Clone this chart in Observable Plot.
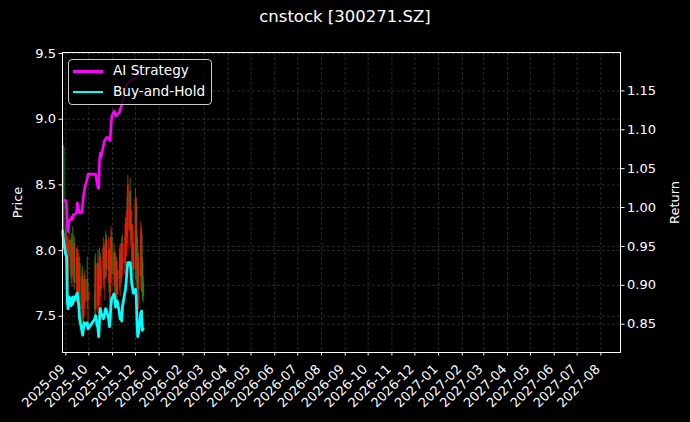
<!DOCTYPE html>
<html>
<head>
<meta charset="utf-8">
<script src="https://cdn.jsdelivr.net/npm/d3@7"></script>
<script src="https://cdn.jsdelivr.net/npm/@observablehq/plot@0.6"></script>
<style>
html, body { margin: 0; padding: 0; background: #000; }
#wrap { position: relative; width: 690px; height: 422px; background: #000; font-family: "DejaVu Sans", sans-serif; overflow: hidden; }
#title { position: absolute; left: 0; top: 7px; width: 690px; text-align: center; color: #fff; font-size: 16.5px; z-index: 2; }
#legend { position: absolute; left: 68px; top: 59px; width: 144px; height: 46px; box-sizing: border-box; border: 1px solid #cccccc; border-radius: 4px; background: rgba(0,0,0,0.8); color: #fff; font-size: 13.6px; z-index: 2; }
.row { position: absolute; left: 0; height: 20px; width: 100%; }
.swatch { position: absolute; left: 4px; width: 30px; height: 2.5px; }
.lbl { position: absolute; left: 44px; white-space: nowrap; }
svg { display: block; }
</style>
</head>
<body>
<div id="wrap">
  <div id="title">cnstock [300271.SZ]</div>
  <div id="chart"></div>
  <div id="legend"></div>
</div>
<script>
// ---- data ----
const dates = [
  "2025-08-28","2025-08-29",
  "2025-09-01","2025-09-02","2025-09-03","2025-09-04","2025-09-05",
  "2025-09-08","2025-09-09","2025-09-10","2025-09-11","2025-09-12",
  "2025-09-15","2025-09-16","2025-09-17","2025-09-18","2025-09-19",
  "2025-09-22","2025-09-23","2025-09-24","2025-09-25","2025-09-26",
  "2025-09-29","2025-09-30",
  "2025-10-09","2025-10-10",
  "2025-10-13","2025-10-14","2025-10-15","2025-10-16","2025-10-17",
  "2025-10-20","2025-10-21","2025-10-22","2025-10-23","2025-10-24",
  "2025-10-27","2025-10-28","2025-10-29","2025-10-30","2025-10-31",
  "2025-11-03","2025-11-04","2025-11-05","2025-11-06","2025-11-07",
  "2025-11-10","2025-11-11","2025-11-12","2025-11-13","2025-11-14",
  "2025-11-17","2025-11-18","2025-11-19","2025-11-20","2025-11-21",
  "2025-11-24","2025-11-25","2025-11-26","2025-11-27","2025-11-28",
  "2025-12-01","2025-12-02","2025-12-03","2025-12-04","2025-12-05",
  "2025-12-08","2025-12-09","2025-12-10","2025-12-11"
];
const open = [
  8.40,8.78,
  8.15,7.98,8.05,7.78,7.95,
  8.08,7.80,8.02,7.90,8.05,
  7.75,7.95,7.78,7.62,7.90,
  7.55,7.80,7.48,7.70,7.60,
  7.78,7.62,
  7.68,7.55,
  7.90,7.58,7.78,7.95,7.70,
  7.85,8.02,7.78,7.92,8.08,
  7.85,8.00,7.68,7.88,8.10,
  7.82,7.98,7.75,7.92,7.66,
  7.85,7.78,7.98,7.80,8.05,
  7.90,7.95,8.05,8.20,8.15,
  8.45,8.25,8.20,8.10,8.05,
  7.85,8.35,8.10,7.98,7.80,
  7.80,8.12,7.90,7.75
];
const high = [
  8.88,8.80,
  8.20,8.12,8.10,8.05,8.15,
  8.13,8.10,8.18,8.12,8.10,
  8.02,8.02,8.00,7.98,7.95,
  7.85,7.88,7.78,7.82,7.85,
  7.95,7.75,
  7.95,7.98,
  8.00,7.85,8.02,7.98,7.92,
  8.10,8.05,8.00,8.15,8.12,
  8.10,8.02,7.95,8.18,8.15,
  8.05,8.00,7.98,7.95,7.92,
  8.02,8.05,8.05,8.10,8.12,
  8.10,8.25,8.30,8.40,8.57,
  8.55,8.35,8.30,8.20,8.15,
  8.47,8.40,8.15,8.05,7.95,
  8.22,8.18,7.95,7.80
];
const low = [
  8.35,8.10,
  7.90,7.80,7.72,7.70,7.85,
  7.75,7.72,7.85,7.78,7.70,
  7.60,7.70,7.55,7.48,7.50,
  7.45,7.40,7.42,7.55,7.50,
  7.55,7.40,
  7.50,7.42,
  7.52,7.45,7.60,7.65,7.55,
  7.72,7.70,7.62,7.78,7.80,
  7.75,7.60,7.55,7.80,7.75,
  7.72,7.68,7.62,7.60,7.58,
  7.70,7.65,7.72,7.75,7.85,
  7.82,7.88,7.95,8.05,8.00,
  8.05,8.02,7.90,7.85,7.80,
  7.78,7.75,7.70,7.62,7.55,
  7.70,7.68,7.62,7.60
];
const close = [
  8.80,8.15,
  7.98,8.05,7.78,7.95,8.08,
  7.80,8.02,7.90,8.05,7.75,
  7.95,7.78,7.62,7.90,7.55,
  7.80,7.48,7.70,7.60,7.78,
  7.62,7.68,
  7.55,7.90,
  7.58,7.78,7.95,7.70,7.85,
  8.02,7.78,7.92,8.08,7.85,
  8.00,7.68,7.88,8.10,7.82,
  7.98,7.75,7.92,7.66,7.85,
  7.78,7.98,7.80,8.05,7.90,
  7.95,8.20,8.25,8.10,8.50,
  8.15,8.30,8.08,8.10,7.85,
  8.40,7.95,8.05,7.70,7.85,
  8.15,7.82,7.75,7.65
];
const aiStrategy = [
  1.009,1.009,
  1.009,1.002,0.976,0.969,0.983,
  0.985,0.988,0.985,0.991,0.991,
  0.993,1.006,1.003,0.996,0.993,
  0.994,1.003,1.014,1.021,1.027,
  1.037,1.043,
  1.043,1.043,
  1.025,1.025,1.060,1.070,1.065,
  1.079,1.084,1.087,1.088,1.090,
  1.090,1.087,1.086,1.105,1.117,
  1.124,1.122,1.118,1.118,1.120,
  1.122,1.127,1.128,1.132,1.137,
  1.146,1.152,1.158,1.159,1.160,
  1.163,1.163,1.164,1.164,1.165,
  1.167,1.168,1.169,1.173,1.176,
  1.180,1.181,1.181,1.181
];
const buyAndHold = [
  0.970,0.957,
  0.939,0.937,0.880,0.870,0.885,
  0.874,0.884,0.876,0.885,0.880,
  0.888,0.890,0.880,0.874,0.857,
  0.842,0.836,0.844,0.852,0.849,
  0.852,0.844,
  0.857,0.861,
  0.844,0.834,0.854,0.870,0.865,
  0.857,0.859,0.865,0.870,0.868,
  0.857,0.847,0.857,0.876,0.883,
  0.889,0.885,0.872,0.878,0.880,
  0.865,0.857,0.859,0.854,0.872,
  0.890,0.895,0.906,0.921,0.929,
  0.929,0.921,0.903,0.898,0.890,
  0.895,0.885,0.854,0.834,0.839,
  0.865,0.867,0.842,0.844
];
const priceTicks = [7.5, 8.0, 8.5, 9.0, 9.5];
const returnTicks = [0.85, 0.90, 0.95, 1.00, 1.05, 1.10, 1.15];
const priceDomain = [7.224, 9.508];
const returnDomain = [0.8136, 1.1994];
const xDomain = ["2025-08-27T16:00:00Z", "2027-08-26T16:00:00Z"];
const seriesNames = ["AI Strategy", "Buy-and-Hold"];
const seriesColors = ["#ff00ff", "#00ffff"];

// ---- build ----
const toPrice = r => priceDomain[0] + (r - returnDomain[0]) * (priceDomain[1] - priceDomain[0]) / (returnDomain[1] - returnDomain[0]);
const fromPrice = p => returnDomain[0] + (p - priceDomain[0]) * (returnDomain[1] - returnDomain[0]) / (priceDomain[1] - priceDomain[0]);

const candles = dates.map((d, i) => ({date: new Date(d + "T00:00:00Z"), open: open[i], high: high[i], low: low[i], close: close[i]}));
const upC = candles.filter(d => d.close >= d.open);
const downC = candles.filter(d => d.close < d.open);
const aiLine = dates.map((d, i) => ({date: new Date(d + "T00:00:00Z"), value: toPrice(aiStrategy[i])}));
const bhLine = dates.map((d, i) => ({date: new Date(d + "T00:00:00Z"), value: toPrice(buyAndHold[i])}));
const monthTicks = d3.utcMonths(new Date("2025-09-01T00:00:00Z"), new Date("2027-08-02T00:00:00Z"));
const returnTickPos = returnTicks.map(toPrice);

const gridStyle = {stroke: "#9a9a9a", strokeOpacity: 0.45, strokeDasharray: "3,2", strokeWidth: 0.6};
const red = "#f01408", green = "#1a8c1a";

const chart = Plot.plot({
  width: 690, height: 422,
  marginTop: 52, marginLeft: 62, marginRight: 70, marginBottom: 70,
  style: {background: "#000", color: "#fff", fontFamily: "DejaVu Sans, sans-serif", fontSize: "13px", overflow: "visible"},
  x: {type: "utc", domain: xDomain.map(s => new Date(s))},
  y: {domain: priceDomain},
  marks: [
    Plot.gridX(monthTicks, gridStyle),
    Plot.gridY(priceTicks, gridStyle),
    Plot.gridY(returnTickPos, gridStyle),
    Plot.ruleX(downC, {x: "date", y1: "low", y2: "high", stroke: green, strokeWidth: 1, strokeOpacity: 0.9}),
    Plot.ruleX(downC, {x: "date", y1: "open", y2: "close", stroke: green, strokeWidth: 2, strokeOpacity: 0.9}),
    Plot.ruleX(upC, {x: "date", y1: "low", y2: "high", stroke: red, strokeWidth: 1, strokeOpacity: 0.9}),
    Plot.ruleX(upC, {x: "date", y1: "open", y2: "close", stroke: red, strokeWidth: 2, strokeOpacity: 0.9}),
    Plot.line(aiLine, {x: "date", y: "value", stroke: seriesColors[0], strokeWidth: 2.6}),
    Plot.line(bhLine, {x: "date", y: "value", stroke: seriesColors[1], strokeWidth: 2.8}),
    Plot.frame({stroke: "#fff", strokeWidth: 1}),
    // tick marks only
    Plot.axisX(monthTicks, {tickFormat: () => "", tickSize: 3.5, label: null, stroke: "#fff"}),
    // rotated tick labels only
    Plot.axisX(monthTicks, {tickFormat: d3.utcFormat("%Y-%m"), tickRotate: -45, tickSize: 0, tickPadding: 5.5, dx: -3, dy: 9, label: null, fill: "#fff", fontSize: 13}),
    Plot.axisY(priceTicks, {anchor: "left", tickFormat: d3.format(".1f"), tickSize: 3.5, tickPadding: 3, label: "Price", labelAnchor: "center", labelArrow: "none", labelOffset: 50, stroke: "#fff", fill: "#fff", fontSize: 13}),
    Plot.axisY(returnTickPos, {anchor: "right", tickFormat: p => fromPrice(p).toFixed(2), tickSize: 3.5, tickPadding: 3, label: "Return", labelAnchor: "center", labelArrow: "none", labelOffset: 58, stroke: "#fff", fill: "#fff", fontSize: 13})
  ]
});
document.getElementById("chart").appendChild(chart);

// legend
const legend = document.getElementById("legend");
seriesNames.forEach((name, i) => {
  const row = document.createElement("div");
  row.className = "row";
  row.style.top = (i === 0 ? 1 : 21.5) + "px";
  const sw = document.createElement("div");
  sw.className = "swatch";
  sw.style.background = seriesColors[i];
  sw.style.top = "9px";
  const lb = document.createElement("div");
  lb.className = "lbl";
  lb.style.top = "1px";
  lb.textContent = name;
  row.appendChild(sw); row.appendChild(lb);
  legend.appendChild(row);
});
</script>
</body>
</html>
